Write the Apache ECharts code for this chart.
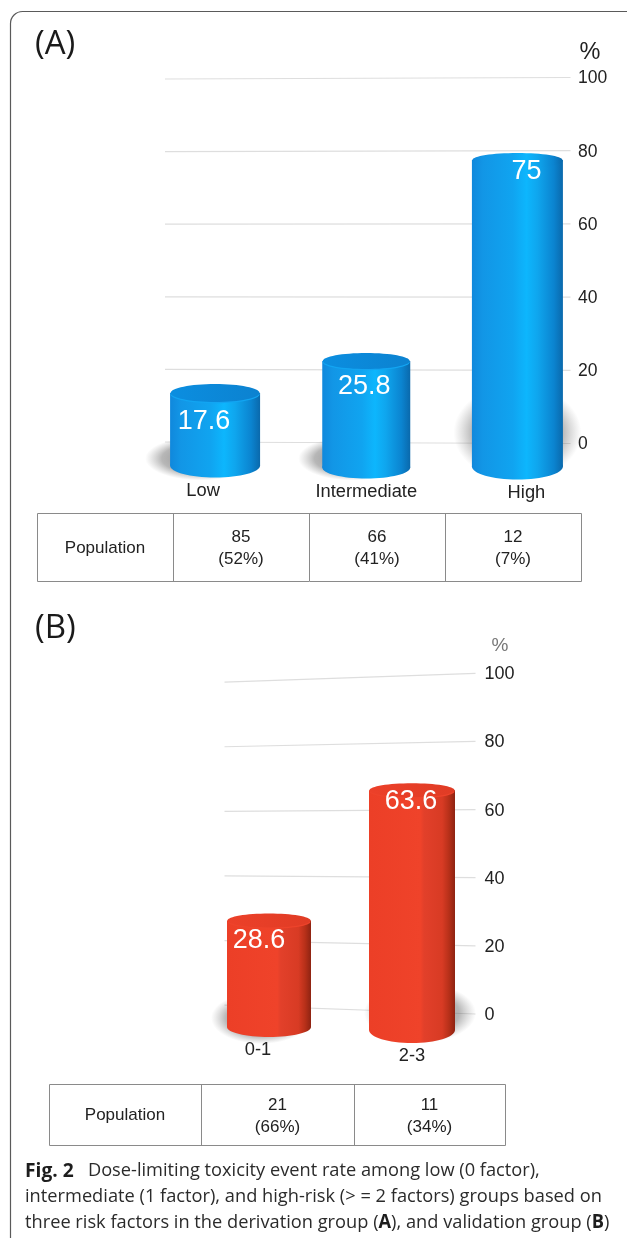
<!DOCTYPE html>
<html>
<head>
<meta charset="utf-8">
<style>html,body{margin:0;padding:0;background:#fff}#c{width:627px;height:1238px}</style>
<script src="https://cdn.jsdelivr.net/npm/echarts@6/dist/echarts.min.js"></script>
</head>
<body>
<div id="c"></div>
<script>
// ---------- data ----------
const categoriesA = ['Low', 'Intermediate', 'High'];
const valuesA = [17.6, 25.8, 75];
const populationNA = ['85', '66', '12'];
const populationPctA = ['(52%)', '(41%)', '(7%)'];

const categoriesB = ['0-1', '2-3'];
const valuesB = [28.6, 63.6];
const populationNB = ['21', '11'];
const populationPctB = ['(66%)', '(34%)'];

const yTicks = [0, 20, 40, 60, 80, 100];

// ---------- perspective layout (px, relative to the value's scale position) ----------
const cylA = [
  {w: 90, top: 13, ry: 9, base: 21, bry: 12, lx: -11, ly: 40, shadow: [-14, 14, 56, 22]},
  {w: 88, top: 11, ry: 8, base: 23, bry: 11, lx: -2, ly: 35, shadow: [-14, 14, 54, 22]},
  {w: 91, top: -10, ry: 7, base: 22, bry: 13, lx: 9, ly: 1, flat: true, shadow: [0, -12, 64, 48]}
];
const cylB = [
  {w: 84, top: 3, ry: 7, base: 12, bry: 10, lx: -10, ly: 22, shadow: [-8, 3, 50, 26]},
  {w: 86, top: -8, ry: 7, base: 15, bry: 13, lx: -1, ly: 2, shadow: [8, -2, 56, 30]}
];

const BLUE = {
  body: [[0, '#1088dc'], [0.12, '#1296e6'], [0.45, '#10a4f0'], [0.6, '#0db6fd'], [0.72, '#0fa6ee'], [0.9, '#0b84d0'], [1, '#0a69ac']],
  top: [[0, '#0b8ee0'], [1, '#0c82d0']],
  rim: '#12a5f2'
};
const RED = {
  body: [[0, '#ec3f27'], [0.6, '#ef432a'], [0.64, '#e2402a'], [0.85, '#d83b24'], [0.93, '#b73019'], [1, '#8e2312']],
  top: [[0, '#ec4029'], [1, '#e03c25']],
  rim: '#ee432b'
};

function grad(stops) {
  return new echarts.graphic.LinearGradient(0, 0, 1, 0, stops.map(s => ({offset: s[0], color: s[1]})));
}

function gridSeries(gi, tilt, leftInset, rightInset) {
  return {
    type: 'custom', xAxisIndex: gi, yAxisIndex: gi, silent: true, z: 1,
    data: yTicks.map(t => [0, t]),
    encode: {x: 0, y: 1},
    renderItem(params, api) {
      const v = api.value(1);
      const y = api.coord([0, v])[1];
      const cs = params.coordSys;
      return {
        type: 'line',
        shape: {x1: cs.x + leftInset, y1: y + (v - 50) * tilt - 1, x2: cs.x + cs.width - rightInset, y2: y - 1},
        style: {stroke: '#dedede', lineWidth: 1.2}
      };
    }
  };
}

function shadowSeries(gi, values, cyl) {
  return {
    type: 'custom', xAxisIndex: gi, yAxisIndex: gi, silent: true, z: 2,
    data: values.map((v, i) => [i, v]),
    encode: {x: 0, y: 1},
    renderItem(params, api) {
      const c = cyl[api.value(0)];
      const p = api.coord([api.value(0), 0]);
      return {
        type: 'circle',
        shape: {cx: 0, cy: 0, r: 1},
        x: p[0] + c.shadow[0], y: p[1] + c.shadow[1],
        scaleX: c.shadow[2], scaleY: c.shadow[3],
        style: {fill: new echarts.graphic.RadialGradient(0.5, 0.5, 0.5, [
          {offset: 0, color: 'rgba(70,70,70,0.7)'},
          {offset: 0.7, color: 'rgba(95,95,95,0.45)'},
          {offset: 1, color: 'rgba(130,130,130,0)'}
        ])}
      };
    }
  };
}

function cylinderSeries(gi, values, cyl, pal) {
  return {
    type: 'custom', xAxisIndex: gi, yAxisIndex: gi, silent: true, z: 3,
    data: values.map((v, i) => [i, v]),
    encode: {x: 0, y: 1},
    renderItem(params, api) {
      const i = api.value(0), val = api.value(1), c = cyl[i];
      const top = api.coord([i, val]);
      const zero = api.coord([i, 0]);
      const cx = top[0], rx = c.w / 2;
      const yTop = top[1] + c.top, yBase = zero[1] + c.base;
      return {
        type: 'group',
        children: [
          {type: 'ellipse', shape: {cx, cy: yBase, rx, ry: c.bry}, style: {fill: grad(pal.body)}},
          {type: 'rect', shape: {x: cx - rx, y: yTop, width: c.w, height: yBase - yTop}, style: {fill: grad(pal.body)}},
          {type: 'ellipse', shape: {cx, cy: yTop + 1.2, rx: rx - 0.5, ry: c.ry}, style: {fill: c.flat ? grad(pal.body) : pal.rim}},
          {type: 'ellipse', shape: {cx, cy: yTop, rx: rx - 0.5, ry: c.ry}, style: {fill: c.flat ? grad(pal.body) : grad(pal.top)}},
          {type: 'text', x: cx + c.lx, y: top[1] + c.ly + 1, style: {
            text: String(val), fill: '#fff', fontFamily: 'Liberation Sans', fontSize: 27,
            align: 'center', verticalAlign: 'middle'
          }}
        ]
      };
    }
  };
}

function xAxis(gi, cats, margin, styleKeys, rich) {
  return {
    gridIndex: gi, type: 'category', data: cats,
    axisLine: {show: false}, axisTick: {show: false}, splitLine: {show: false},
    axisLabel: {
      interval: 0, margin, hideOverlap: false,
      formatter: (v, i) => '{' + styleKeys[i] + '|' + v + '}',
      rich
    }
  };
}
function yAxis(gi, margin, size) {
  return {
    gridIndex: gi, type: 'value', position: 'right', min: 0, max: 100, interval: 20,
    axisLine: {show: false}, axisTick: {show: false}, splitLine: {show: false},
    axisLabel: {margin, color: '#222', fontFamily: 'Liberation Sans', fontSize: size}
  };
}
const lab = {color: '#222', fontFamily: 'Liberation Sans', fontSize: 18.3};

// ---------- tables and caption (static text) ----------
function table(x0, x1, y0, y1, dividers, nums, pcts, popX, size, dy) {
  const stroke = '#8a8a8a';
  const els = [{type: 'rect', shape: {x: x0 + .5, y: y0 + .5, width: x1 - x0, height: y1 - y0}, style: {fill: 'none', stroke, lineWidth: 1}}];
  dividers.forEach(d => els.push({type: 'line', shape: {x1: d + .5, y1: y0, x2: d + .5, y2: y1}, style: {stroke, lineWidth: 1}}));
  const tx = (t, x, y) => ({type: 'text', x, y, style: {text: t, fill: '#222', fontFamily: 'Liberation Sans', fontSize: size, align: 'center', verticalAlign: 'middle'}});
  const mid = (y0 + y1) / 2;
  els.push(tx('Population', popX, mid + 1));
  nums.forEach((n, i) => {
    const a = dividers[i], b = dividers[i + 1] === undefined ? x1 : dividers[i + 1];
    els.push(tx(n, (a + b) / 2, mid - 10 + dy));
    els.push(tx(pcts[i], (a + b) / 2, mid + 11 + dy + 1));
  });
  return els;
}
const capFont = {fontFamily: 'Open Sans', fontSize: 19, fill: '#2b2b2b'};
const caption = [
  {x: 25, y: 1171, text: '{f|Fig. 2}   Dose-limiting toxicity event rate among low (0 factor),'},
  {x: 25, y: 1197, text: 'intermediate (1 factor), and high-risk (> = 2 factors) groups based on'},
  {x: 25, y: 1223, text: 'three risk factors in the derivation group ({b|A}), and validation group ({b|B})'}
].map(l => ({
  type: 'text', x: l.x, y: l.y, scaleX: 0.96, scaleY: 1,
  style: {text: l.text, ...capFont, verticalAlign: 'middle',
    rich: {
      b: {fontFamily: 'Open Sans', fontSize: 19, fontWeight: 'bold', fill: '#1d1d1d'},
      f: {fontFamily: 'Open Sans', fontSize: 20, fontWeight: 'bold', fill: '#1d1d1d'}
    }}
}));

const chart = echarts.init(document.getElementById('c'), null, {renderer: 'canvas'});
chart.setOption({
  animation: false,
  backgroundColor: '#fff',
  grid: [
    {left: 139.5, width: 453.5, top: 78.5, height: 366},
    {left: 197.5, width: 286, top: 674.3, height: 340.7}
  ],
  xAxis: [
    xAxis(0, categoriesA, 37, ['a', 'b', 'c'], {
      a: {...lab, padding: [0, 24, 0, 0]},
      b: {...lab, padding: [1, 0, 0, 0]},
      c: {...lab, padding: [2, 0, 0, 18]}
    }),
    xAxis(1, categoriesB, 26, ['a', 'b'], {
      a: {...lab, padding: [0, 22, 0, 0]},
      b: {...lab, padding: [6, 0, 0, 0]}
    })
  ],
  yAxis: [yAxis(0, -15, 17.5), yAxis(1, 1, 18)],
  series: [
    gridSeries(0, 0.03, 25.5, 22.5),
    shadowSeries(0, valuesA, cylA),
    cylinderSeries(0, valuesA, cylA, BLUE),
    gridSeries(1, 0.177, 27, 8),
    shadowSeries(1, valuesB, cylB),
    cylinderSeries(1, valuesB, cylB, RED)
  ],
  graphic: [
    {type: 'rect', silent: true, shape: {x: 10.5, y: 11.5, width: 800, height: 1240, r: 12}, style: {fill: 'none', stroke: '#5a5a5a', lineWidth: 1.2}, z: -1},
    {type: 'text', x: 35, y: 45, style: {text: '(A)', fontFamily: 'Open Sans', fontSize: 33, fill: '#1a1a1a', verticalAlign: 'middle'}},
    {type: 'text', x: 35, y: 629, style: {text: '(B)', fontFamily: 'Open Sans', fontSize: 33, fill: '#1a1a1a', verticalAlign: 'middle'}},
    {type: 'text', x: 590, y: 53, style: {text: '%', fontFamily: 'Liberation Sans', fontSize: 23.5, fill: '#222', align: 'center', verticalAlign: 'middle'}},
    {type: 'text', x: 500, y: 646, style: {text: '%', fontFamily: 'Liberation Sans', fontSize: 19, fill: '#777', align: 'center', verticalAlign: 'middle'}},
    ...table(37, 581, 513, 581, [173, 309, 445], populationNA, populationPctA, 105, 17, 0),
    ...table(49, 505, 1084, 1145, [201, 354], populationNB, populationPctB, 125, 17, 1),
    ...caption
  ]
});
</script>
</body>
</html>
